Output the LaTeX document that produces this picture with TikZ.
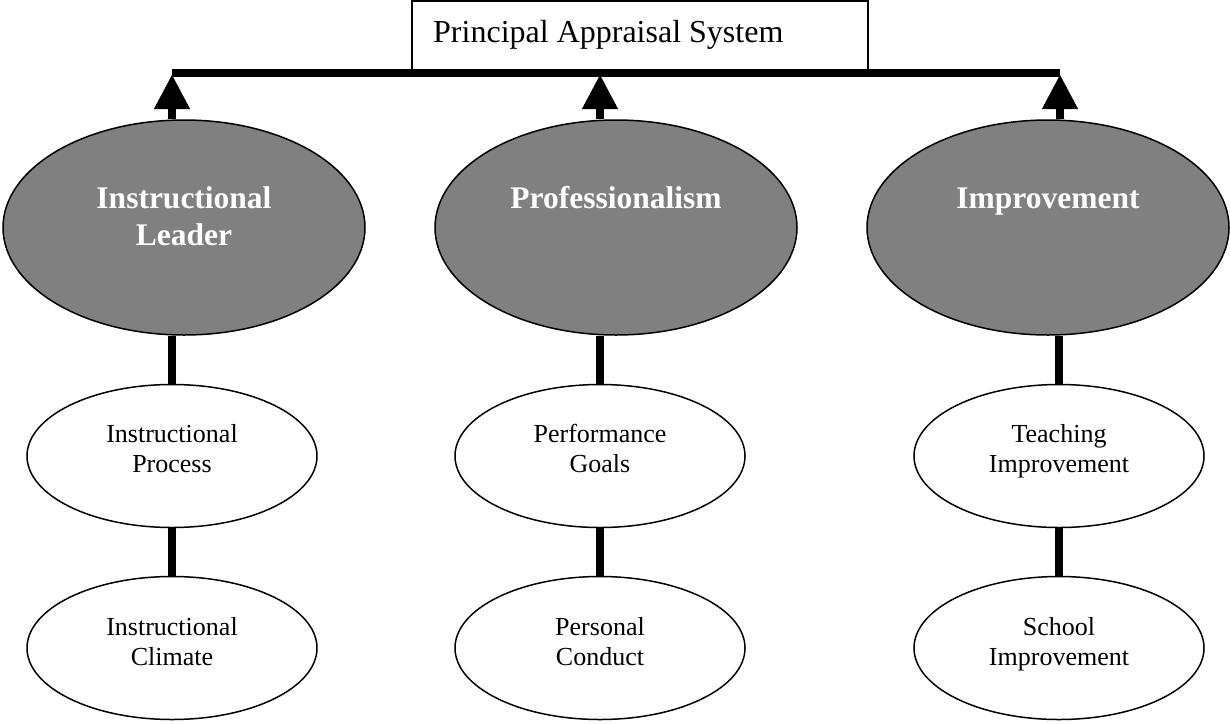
\documentclass[tikz,border=0pt]{standalone}
\usepackage{fontspec}
\setmainfont{Liberation Serif}
\usetikzlibrary{arrows.meta,shapes.geometric}
\definecolor{ellgray}{RGB}{128,128,128}
\begin{document}
\begin{tikzpicture}[x=1pt,y=-1pt,
  big/.style={ellipse, draw=black, line width=1.5pt, fill=ellgray, inner sep=0pt,
    minimum width=362pt, minimum height=215pt},
  small/.style={ellipse, draw=black, line width=1.5pt, fill=white, inner sep=0pt,
    minimum width=290pt, minimum height=143pt},
  sysbox/.style={draw=black, line width=1.5pt, fill=white, inner sep=0pt,
    minimum width=456pt, minimum height=70pt},
  systext/.style={anchor=base west, inner sep=0pt, font=\fontsize{32}{38}\selectfont},
  bigtext/.style={anchor=base, inner sep=0pt, text=white,
    font=\fontsize{31.5}{37}\selectfont\bfseries},
  smalltext/.style={anchor=base, inner sep=0pt, font=\fontsize{26}{30.5}\selectfont},
  stem/.style={line width=8pt},
  upstem/.style={line width=8pt, -{Triangle[length=34pt,width=36pt,line width=0.5pt]}}
]
\useasboundingbox (0,0) rectangle (1230,723);

% top box
\node[sysbox] (sys) at (640,35.75) {};
\node[systext] (syslabel) at (433,42) {Principal Appraisal System};

% big ellipses
\node[big] (b1) at (184,227.5) {};
\node[big] (b2) at (616,227.5) {};
\node[big] (b3) at (1048,227.5) {};
\node[bigtext] (tb1) at (184,208) {\begin{tabular}[t]{@{}c@{}}Instructional\\Leader\end{tabular}};
\node[bigtext] (tb2) at (616,208) {Professionalism};
\node[bigtext] (tb3) at (1048,208) {Improvement};

% small ellipses
\node[small] (s11) at (172,456) {};
\node[small] (s12) at (172,648) {};
\node[small] (s21) at (600,456) {};
\node[small] (s22) at (600,648) {};
\node[small] (s31) at (1059,456) {};
\node[small] (s32) at (1059,648) {};
\node[smalltext] (t11) at (172,442) {\begin{tabular}[t]{@{}c@{}}Instructional\\Process\end{tabular}};
\node[smalltext] (t12) at (172,635) {\begin{tabular}[t]{@{}c@{}}Instructional\\Climate\end{tabular}};
\node[smalltext] (t21) at (600,442) {\begin{tabular}[t]{@{}c@{}}Performance\\Goals\end{tabular}};
\node[smalltext] (t22) at (600,635) {\begin{tabular}[t]{@{}c@{}}Personal\\Conduct\end{tabular}};
\node[smalltext] (t31) at (1059,442) {\begin{tabular}[t]{@{}c@{}}Teaching\\Improvement\end{tabular}};
\node[smalltext] (t32) at (1059,635) {\begin{tabular}[t]{@{}c@{}}School\\Improvement\end{tabular}};

% horizontal bar
\coordinate (hl) at (172,73);
\coordinate (hm) at (600,73);
\coordinate (hr) at (1060,73);
\draw[stem] (hl) -- (hr);

% arrows up
\draw[upstem] (hl |- b1.north) -- ([yshift=-2pt]hl);
\draw[upstem] (hm |- b2.north) -- ([yshift=-2pt]hm);
\draw[upstem] (hr |- b3.north) -- ([yshift=-2pt]hr);

% vertical stems
\draw[stem] (s11.north |- b1.south) -- (s11.north);
\draw[stem] (s11.south) -- (s12.north);
\draw[stem] (s21.north |- b2.south) -- (s21.north);
\draw[stem] (s21.south) -- (s22.north);
\draw[stem] (s31.north |- b3.south) -- (s31.north);
\draw[stem] (s31.south) -- (s32.north);
\end{tikzpicture}
\end{document}
